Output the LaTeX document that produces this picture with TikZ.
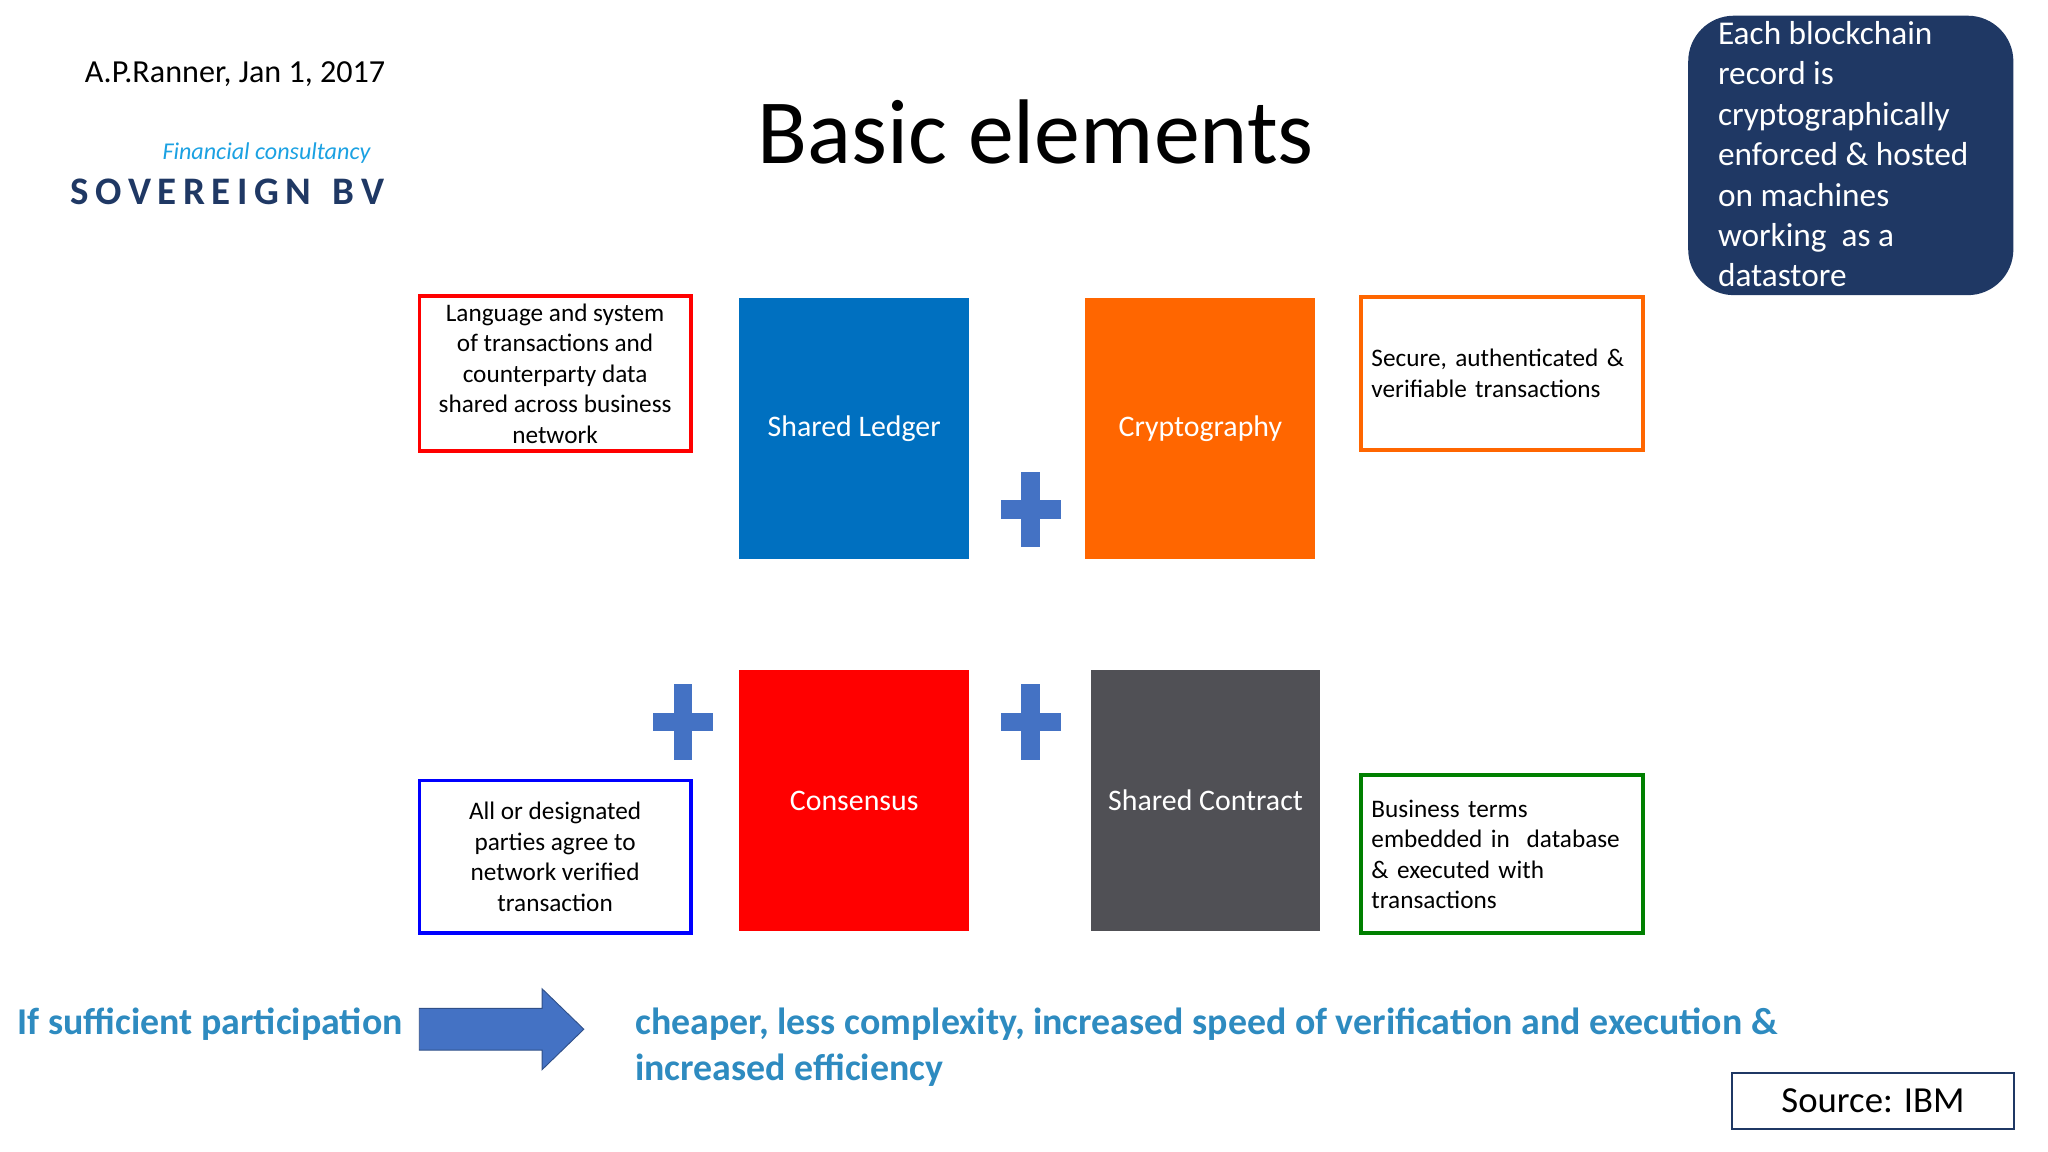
\documentclass[tikz,border=0pt]{standalone}
\usepackage{fontspec}
\setmainfont{Carlito}
\usetikzlibrary{calc}
\definecolor{navy}{HTML}{1F3864}
\definecolor{ledger}{HTML}{0070C0}
\definecolor{crypto}{HTML}{FF6600}
\definecolor{slate}{HTML}{505055}
\definecolor{plusblue}{HTML}{4472C4}
\definecolor{teal}{HTML}{2E8BC0}
\definecolor{cyanish}{HTML}{1BA1E2}
\begin{document}
\begin{tikzpicture}[x=0.02cm,y=-0.02cm]
        \tikzstyle{square} = [rectangle, minimum width=3.52cm, minimum height=4cm, text=white, font=\fontsize{13}{15}\selectfont]
        \tikzstyle{note} = [rectangle, line width=1.5pt, minimum width=4.16cm, minimum height=2.34cm, font=\fontsize{11}{13.3}\selectfont]
        \tikzstyle{plus} = [fill=plusblue]

        \useasboundingbox (0,0) rectangle (1568,882);

        \node (author) at (180,57) {\fontsize{14}{16}\selectfont A.P.Ranner, Jan 1, 2017};
        \node (firm) [text=cyanish] at (204,117) {\fontsize{10.5}{12}\selectfont\itshape Financial consultancy};
        \node (brand) [text=navy] at (174,147) {\fontsize{17}{20}\selectfont\bfseries S\,O\,V\,E\,R\,E\,I\,G\,N\, \,B\,V};
        \node (title) at (793,101) {\fontsize{40}{50}\selectfont Basic elements};

        \node (record) [fill=navy, rounded corners=0.7cm, minimum width=4.98cm, minimum height=4.28cm] at (1417,119) {};
        \node (recordtext) [text=white, anchor=north west, align=left, inner sep=0pt, font=\fontsize{14.5}{17.6}\selectfont] at (1315,16) {Each blockchain\\record is\\cryptographically\\enforced \& hosted\\on machines\\working~ as a\\datastore};

        \node (language) [note, draw=red, align=center] at (425,286) {Language and system\\of transactions and\\counterparty data\\shared across business\\network};
        \node (ledger) [square, fill=ledger] at (654,328) {Shared Ledger};
        \node (crypto) [square, fill=crypto] at (919,328) {Cryptography};
        \node (secure) [note, draw=crypto, minimum width=4.32cm, text width=4.0cm, align=left] at (1150,286) {Secure, authenticated \&\\verifiable transactions};

        \node (consensus) [square, fill=red] at (654,613) {Consensus};
        \node (contract) [square, fill=slate] at (923,613) {Shared Contract};
        \node (agree) [note, draw=blue, align=center] at (425,656) {All or designated\\parties agree to\\network verified\\transaction};
        \node (terms) [note, draw=green!50!black, minimum width=4.32cm, minimum height=2.42cm, text width=4.0cm, align=left] at (1150,654) {Business terms\\embedded in~ database\\\& executed with\\transactions};

        % plus signs
        \foreach \px/\py in {789/390, 523/553, 789/553} {
            \fill [plus] (\px-23,\py-7) rectangle (\px+23,\py+7);
            \fill [plus] (\px-7,\py-29) rectangle (\px+7,\py+29);
        }

        \node (if) [text=teal, font=\fontsize{16.5}{19}\selectfont\bfseries] at (161,784) {If sufficient participation};
        \coordinate (tail) at (321,788);
        \coordinate (tip) at (447,788);
        \fill [plusblue, draw=plusblue!70!black] ($(tail)+(0,-16)$) -- (415,772) -- (415,757) -- (tip) -- (415,819) -- (415,804) -- ($(tail)+(0,16)$) -- cycle;
        \node (gain) [text=teal, anchor=west, align=left, inner sep=0pt, font=\fontsize{16.5}{20}\selectfont\bfseries] at (486,802) {cheaper, less complexity, increased speed of verification and execution \&\\increased efficiency};

        \node (source) [draw=navy, line width=1pt, minimum width=4.32cm, minimum height=0.86cm] at (1434,843) {\fontsize{16}{19}\selectfont Source: IBM};
    \end{tikzpicture}
\end{document}
